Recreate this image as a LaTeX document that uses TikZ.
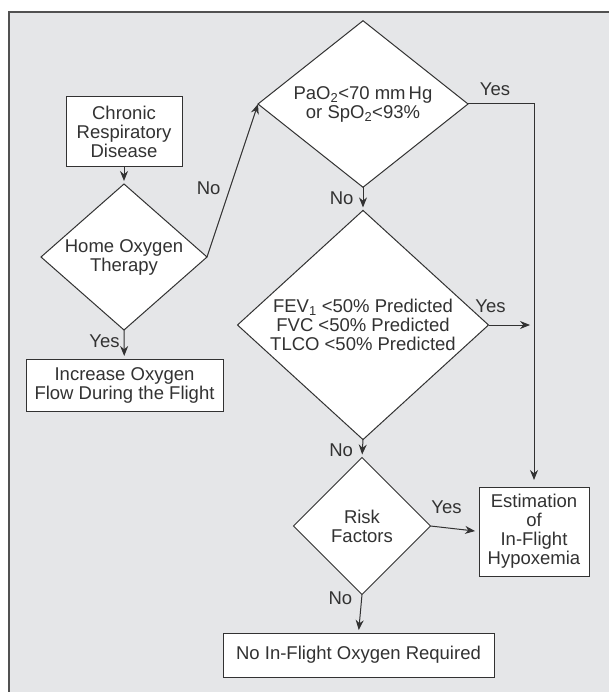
\documentclass[tikz,border=0pt]{standalone}
\usepackage{fontspec}
\setmainfont{Liberation Sans}
\usetikzlibrary{calc}
\usetikzlibrary{positioning}
\usetikzlibrary{shapes.geometric}
\usetikzlibrary{arrows.meta}

\definecolor{panelgray}{RGB}{229,230,232}
\definecolor{inkgray}{RGB}{50,50,50}

\begin{document}
\begin{tikzpicture}[x=1pt, y=-1pt,
  box/.style={draw=inkgray, line width=1pt, fill=white, inner sep=0pt, outer sep=0pt,
    align=center, text=inkgray, font=\fontsize{18.5}{19}\selectfont},
  decision/.style={diamond, draw=inkgray, line width=1pt, fill=white, inner sep=-2pt, outer sep=0pt,
    align=center, text=inkgray, font=\fontsize{18.5}{19}\selectfont},
  flow/.style={draw=inkgray, line width=1pt, -{Stealth[length=10pt,width=8pt]}, shorten >=3pt},
  lbl/.style={text=inkgray, inner sep=2pt, font=\fontsize{18.5}{19}\selectfont}]

\newcommand{\frameX}{9}   % 灰色底框的左边
\newcommand{\frameY}{12}  % 灰色底框的上边

\useasboundingbox (0,0) rectangle (609,692);
\fill[panelgray] (\frameX,\frameY) rectangle (609,692);
\draw[inkgray!85, line width=1.3pt] (\frameX,692) -- (\frameX,\frameY) -- (609,\frameY);

\node[box, minimum width=116pt, minimum height=70pt] (chronic) at (124,132)
  {Chronic\\Respiratory\\Disease};
\node[decision, minimum width=166pt, minimum height=120pt] (home) at (124,257)
  {Home Oxygen\\Therapy};
\node[box, minimum width=197pt, minimum height=52pt] (increase) at (124.5,385)
  {Increase Oxygen\\Flow During the Flight};

\node[decision, minimum width=210pt, minimum height=143pt] (pao) at (363,104)
  {PaO\textsubscript{2}<70 mm\,Hg\\or SpO\textsubscript{2}<93\%};
\node[decision, minimum width=251pt, minimum height=205pt] (fev) at (363,325)
  {FEV\textsubscript{1} <50\% Predicted\\FVC <50\% Predicted\\TLCO <50\% Predicted};
\node[decision, minimum width=137pt, minimum height=137pt] (risk) at (362,526)
  {Risk\\Factors};

\node[box, minimum width=110pt, minimum height=89pt] (estim) at (534,531.5)
  {Estimation\\of\\In-Flight\\Hypoxemia};
\node[box, minimum width=271pt, minimum height=44pt] (nooxy) at (358.5,655)
  {No In-Flight Oxygen Required};

\coordinate (yesturn) at (pao.east -| estim.north);
\coordinate (fevend) at ($(fev.east -| estim.north)+(-4,0)$);

\draw[flow] (chronic) -- (home);
\draw[flow] (home.south) -- node[lbl, pos=0.4, left=2pt] {Yes} (increase);
\draw[flow, shorten >=0pt] (home.east) -- node[lbl, pos=0.45, left=7pt] {No} (pao.west);
\draw[flow] (pao.south) -- node[lbl, pos=0.46, left=7pt] {No} (fev.north);
\draw[flow] (fev.south) -- node[lbl, pos=0.57, left=7pt] {No} (risk.north);
\draw[flow] (risk.south) -- node[lbl, pos=0.1, left=7pt] {No} (nooxy.north);

\draw[flow, shorten >=7pt] (pao.east) -- node[lbl, pos=0.41, above=6pt] {Yes} (yesturn) -- (estim.north);
\draw[flow, shorten >=0pt] (fev.east) -- node[lbl, pos=0.05, above=10pt] {Yes} (fevend);
\draw[flow, shorten >=4pt] (risk.east) -- node[lbl, pos=0.33, above=12pt] {Yes} (estim.west);

\end{tikzpicture}
\end{document}
